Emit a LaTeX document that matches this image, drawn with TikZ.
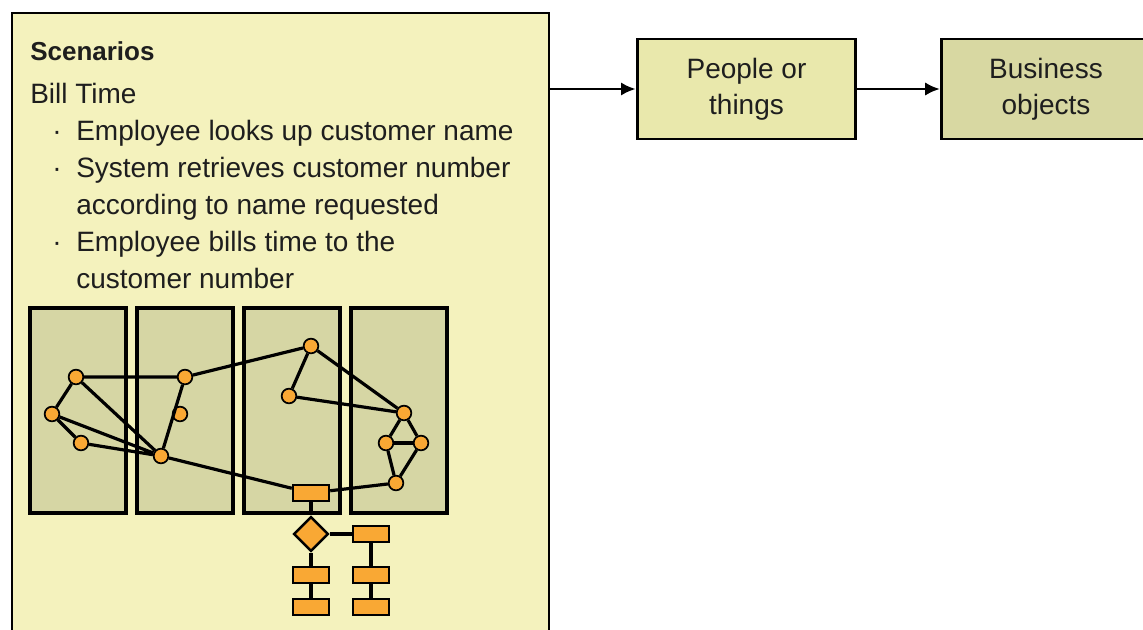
\documentclass[tikz,border=0pt]{standalone}
\usepackage{fontspec}
\setmainfont{Liberation Sans}
\usetikzlibrary{shapes.geometric,arrows.meta,positioning}

\definecolor{scenfill}{HTML}{F4F2BD}
\definecolor{peoplefill}{HTML}{E9E8AC}
\definecolor{bizfill}{HTML}{D8D8A2}
\definecolor{panelfill}{HTML}{D6D6A4}
\definecolor{dotfill}{HTML}{F9A834}
\definecolor{inkgrey}{HTML}{1E1E1E}

\newcommand{\bodyfont}{\fontsize{21}{27}\selectfont}
\newcommand{\headfont}{\fontsize{19.5}{27}\selectfont\bfseries}

\tikzset{
  scenbox/.style={draw=black, line width=1.6pt, fill=scenfill},
  objbox/.style={draw=black, line width=2.2pt, minimum height=75pt, inner sep=0pt,
    align=center, font=\bodyfont, text=inkgrey},
  txt/.style={anchor=base west, inner sep=0pt, font=\bodyfont, text=inkgrey},
  flow/.style={line width=2pt, -{Latex[length=11pt,width=10pt]}},
  panel/.style={draw=black, line width=2.4pt, fill=panelfill},
  dot/.style={circle, draw=black, line width=1.3pt, fill=dotfill, inner sep=0pt, minimum size=11pt},
  proc/.style={rectangle, draw=black, line width=1.8pt, fill=dotfill, inner sep=0pt,
    minimum width=27pt, minimum height=12pt},
  choice/.style={diamond, draw=black, line width=1.8pt, fill=dotfill, inner sep=0pt,
    minimum width=26pt, minimum height=26pt},
  link/.style={line width=2.4pt}
}

\begin{document}
\begin{tikzpicture}[x=0.75pt,y=-0.75pt]
  \useasboundingbox (0,0) rectangle (1143,629);
  \clip (0,0) rectangle (1143,629);

  % scenario card
  \draw [scenbox] (12,13) rectangle (549,680);
  \node [txt, font=\headfont] (scen) at (30,60) {Scenarios};
  \node [txt] (bill) at (30,103) {Bill Time};
  \node [txt] (dot1) at (52,140) {·};
  \node [txt] (line1) at (76,140) {Employee looks up customer name};
  \node [txt] (dot2) at (52,177) {·};
  \node [txt] (line2) at (76,177) {System retrieves customer number};
  \node [txt] (line3) at (76,214) {according to name requested};
  \node [txt] (dot3) at (52,251) {·};
  \node [txt] (line4) at (76,251) {Employee bills time to the};
  \node [txt] (line5) at (76,288) {customer number};

  % swimlane panels
  \foreach \px in {30,137,244,351}
    \draw [panel] (\px,308) rectangle (\px+96,513);

  % activity nodes
  \node [dot] (a) at (76,377) {};
  \node [dot] (b) at (52,414) {};
  \node [dot] (c) at (81,443) {};
  \node [dot] (d) at (161,456) {};
  \node [dot] (e) at (185,377) {};
  \node [dot] (f) at (180,414) {};
  \node [dot] (g) at (311,346) {};
  \node [dot] (h) at (289,396) {};
  \node [dot] (i) at (404,413) {};
  \node [dot] (j) at (386,443) {};
  \node [dot] (k) at (421,443) {};
  \node [dot] (l) at (396,483) {};

  \node [proc] (r1) at (311,493) {};
  \node [choice] (dec) at (311,534) {};
  \node [proc] (r2) at (371,534) {};
  \node [proc] (r3) at (311,575) {};
  \node [proc] (r4) at (371,575) {};
  \node [proc] (r5) at (311,607) {};
  \node [proc] (r6) at (371,607) {};

  \draw [link] (b) -- (a) -- (e) -- (g) -- (h) -- (i) -- (g);
  \draw [link] (a) -- (d) -- (b) -- (c) -- (d) -- (e);
  \draw [link] (d) -- (r1) -- (l) -- (j) -- (i) -- (k) -- (l);
  \draw [link] (j) -- (k);
  \draw [link] (r1) -- (dec) -- (r3) -- (r5);
  \draw [link] (dec) -- (r2) -- (r4) -- (r6);

  % object boxes
  \node [objbox, fill=peoplefill, minimum width=164pt] (people) at (746.5,89) {People or\\things};
  \node [objbox, fill=bizfill, minimum width=157pt] (biz) at (1046,89) {Business\\objects};
  \coordinate (scenout) at (549,89);

  \draw [flow] (scenout) -- (people);
  \draw [flow] (people) -- (biz);
\end{tikzpicture}
\end{document}
